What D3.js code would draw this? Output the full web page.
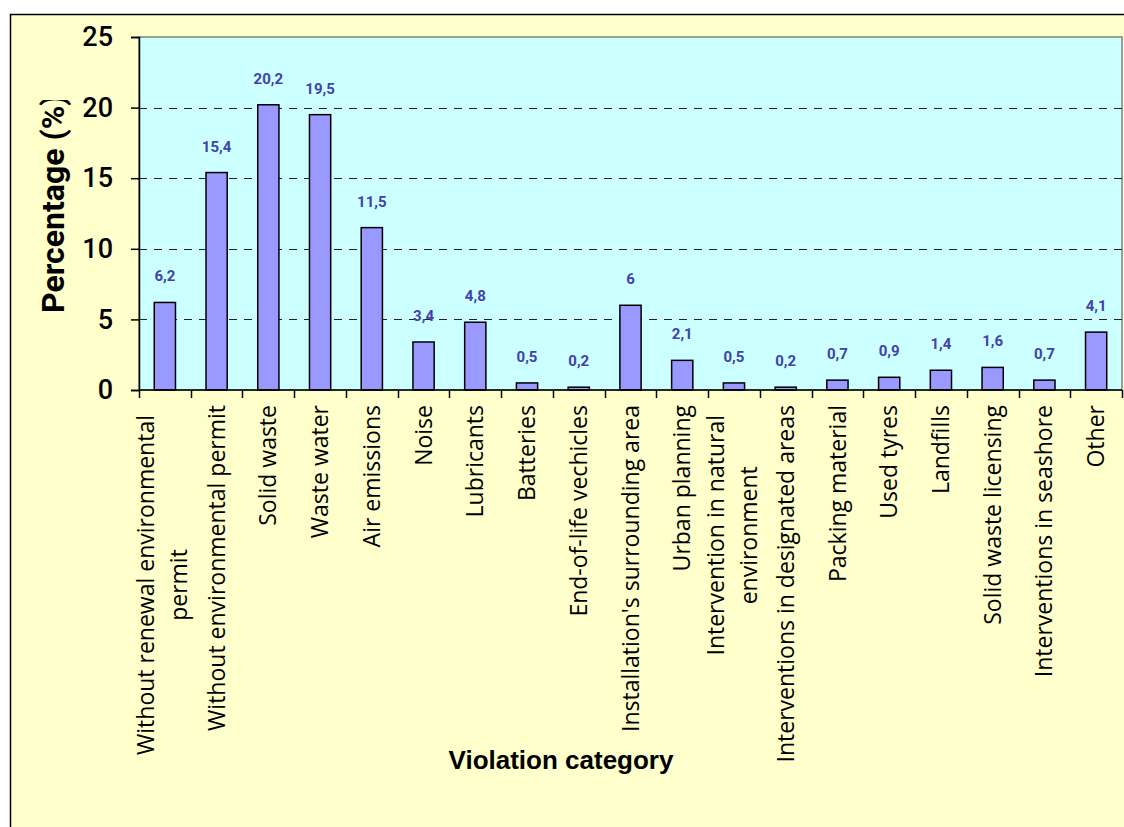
<!DOCTYPE html>
<html>
<head>
<meta charset="utf-8">
<script src="https://cdn.jsdelivr.net/npm/d3@7"></script>
<style>
  body { margin: 0; background: #fff; }
</style>
</head>
<body>
<script>
//chart data
var categories = [
    "Without renewal environmental|permit",
    "Without environmental permit",
    "Solid waste",
    "Waste water",
    "Air emissions",
    "Noise",
    "Lubricants",
    "Batteries",
    "End-of-life vechicles",
    "Installation's surrounding area",
    "Urban planning",
    "Intervention in natural|environment",
    "Interventions in designated areas",
    "Packing material",
    "Used tyres",
    "Landfills",
    "Solid waste licensing",
    "Interventions in seashore",
    "Other"
];
var values = [6.2, 15.4, 20.2, 19.5, 11.5, 3.4, 4.8, 0.5, 0.2, 6, 2.1, 0.5, 0.2, 0.7, 0.9, 1.4, 1.6, 0.7, 4.1];
var yTicks = [0, 5, 10, 15, 20, 25];
var yTitle = "Percentage (%)";
var xTitle = "Violation category";

//frame dimensions
var width = 1124,
    height = 827,
    plotLeft = 139,
    plotRight = 1122,
    plotTop = 37,
    plotBottom = 390;

var svg = d3.select("body")
    .append("svg")
    .attr("width", width)
    .attr("height", height);

//outer chart area
svg.append("rect")
    .attr("x", 10.5)
    .attr("y", 14.5)
    .attr("width", width + 10)
    .attr("height", height)
    .attr("fill", "#FFFFCC")
    .attr("stroke", "#000")
    .attr("stroke-width", 1.5);

//plot area
svg.append("rect")
    .attr("x", plotLeft)
    .attr("y", plotTop)
    .attr("width", plotRight - plotLeft)
    .attr("height", plotBottom - plotTop)
    .attr("fill", "#CCFFFF")
    .attr("stroke", "#808080")
    .attr("stroke-width", 1.5);

var x = d3.scaleBand()
    .domain(d3.range(categories.length))
    .range([plotLeft, plotRight])
    .padding(0);

var y = d3.scaleLinear()
    .domain([0, 25])
    .range([plotBottom, plotTop]);

//gridlines
svg.selectAll(".grid")
    .data(yTicks.filter(function(d){ return d > 0 && d < 25; }))
    .enter()
    .append("line")
    .attr("class", "grid")
    .attr("x1", plotLeft)
    .attr("x2", plotRight)
    .attr("y1", function(d){ return Math.round(y(d)) + 0.5; })
    .attr("y2", function(d){ return Math.round(y(d)) + 0.5; })
    .attr("stroke", "#222")
    .attr("stroke-width", 1)
    .attr("stroke-dasharray", "8,7");

//bars
var barW = x.bandwidth() * 0.41;
svg.selectAll(".bar")
    .data(values)
    .enter()
    .append("rect")
    .attr("class", "bar")
    .attr("x", function(d, i){ return x(i) + (x.bandwidth() - barW) / 2; })
    .attr("y", function(d){ return y(d); })
    .attr("width", barW)
    .attr("height", function(d){ return plotBottom - y(d); })
    .attr("fill", "#9999FF")
    .attr("stroke", "#000")
    .attr("stroke-width", 1.5);

//value labels
svg.selectAll(".val")
    .data(values)
    .enter()
    .append("text")
    .attr("class", "val")
    .attr("x", function(d, i){ return x(i) + x.bandwidth() / 2; })
    .attr("y", function(d){ return y(d) - 21; })
    .attr("text-anchor", "middle")
    .attr("font-family", "Roboto, sans-serif")
    .attr("font-weight", "bold")
    .attr("font-size", 15)
    .attr("fill", "#4242A8")
    .text(function(d){ return String(d).replace(".", ","); });

//y axis
var yAxis = d3.axisLeft(y)
    .tickValues(yTicks)
    .tickSize(8)
    .tickPadding(18)
    .tickFormat(d3.format("d"));

var yG = svg.append("g")
    .attr("transform", "translate(" + plotLeft + ",0)")
    .call(yAxis);
yG.select(".domain").attr("stroke", "#000").attr("stroke-width", 1.5);
yG.selectAll(".tick line").attr("stroke", "#000").attr("stroke-width", 1.5);
yG.selectAll(".tick text")
    .attr("font-family", "Roboto, sans-serif")
    .attr("font-size", 27)
    .attr("font-weight", 500)
    .attr("fill", "#000");

//x axis, ticks at category boundaries
var xG = svg.append("g").attr("class", "xaxis");
xG.append("line")
    .attr("x1", plotLeft)
    .attr("x2", plotRight)
    .attr("y1", plotBottom)
    .attr("y2", plotBottom)
    .attr("stroke", "#000")
    .attr("stroke-width", 1.5);
xG.selectAll(".xtick")
    .data(d3.range(categories.length + 1))
    .enter()
    .append("line")
    .attr("class", "xtick")
    .attr("x1", function(i){ return Math.round(plotLeft + i * x.step()) + 0.5; })
    .attr("x2", function(i){ return Math.round(plotLeft + i * x.step()) + 0.5; })
    .attr("y1", plotBottom)
    .attr("y2", plotBottom + 8)
    .attr("stroke", "#000")
    .attr("stroke-width", 1.5);

//category labels, rotated
var lineGap = 33;
var catLabels = svg.selectAll(".cat")
    .data(categories)
    .enter()
    .append("g")
    .attr("class", "cat")
    .attr("transform", function(d, i){
        var multi = d.indexOf("|") >= 0;
        return "translate(" + (x(i) + x.bandwidth() / 2) + "," + (plotBottom + (multi ? 25 : 15)) + ") rotate(-90)";
    });

catLabels.each(function(d){
    var lines = d.split("|");
    var g = d3.select(this);
    lines.forEach(function(line, k){
        var offset = (k - (lines.length - 1) / 2) * lineGap - (lines.length > 1 ? 2 : 0);
        g.append("text")
            .attr("x", 0)
            .attr("y", offset)
            .attr("dy", "0.35em")
            .attr("text-anchor", lines.length > 1 ? "middle" : "end")
            .attr("font-family", "Open Sans, sans-serif")
            .attr("font-size", 23)
            .attr("fill", "#000")
            .text(line);
    });
});

//two-line labels are centred blocks; shift them so the longest line starts at the offset
catLabels.each(function(d){
    var texts = d3.select(this).selectAll("text");
    if (texts.size() > 1) {
        var maxW = 0;
        texts.each(function(){ maxW = Math.max(maxW, this.getComputedTextLength()); });
        texts.attr("x", -maxW / 2);
    }
});

//axis titles (y title is cut off at the top, as in the original)
svg.append("clipPath")
    .attr("id", "ytclip")
    .append("rect")
    .attr("x", 0)
    .attr("y", 100)
    .attr("width", 130)
    .attr("height", 400);

svg.append("g")
    .attr("clip-path", "url(#ytclip)")
    .append("text")
    .attr("transform", "translate(64,313) rotate(-90)")
    .attr("text-anchor", "start")
    .attr("font-family", "Roboto, sans-serif")
    .attr("font-weight", "bold")
    .attr("font-size", 32)
    .attr("fill", "#000")
    .text(yTitle);

svg.append("text")
    .attr("x", 561)
    .attr("y", 769)
    .attr("text-anchor", "middle")
    .attr("font-family", "Liberation Sans, Arial, sans-serif")
    .attr("font-weight", "bold")
    .attr("font-size", 26)
    .attr("fill", "#000")
    .text(xTitle);
</script>
</body>
</html>
